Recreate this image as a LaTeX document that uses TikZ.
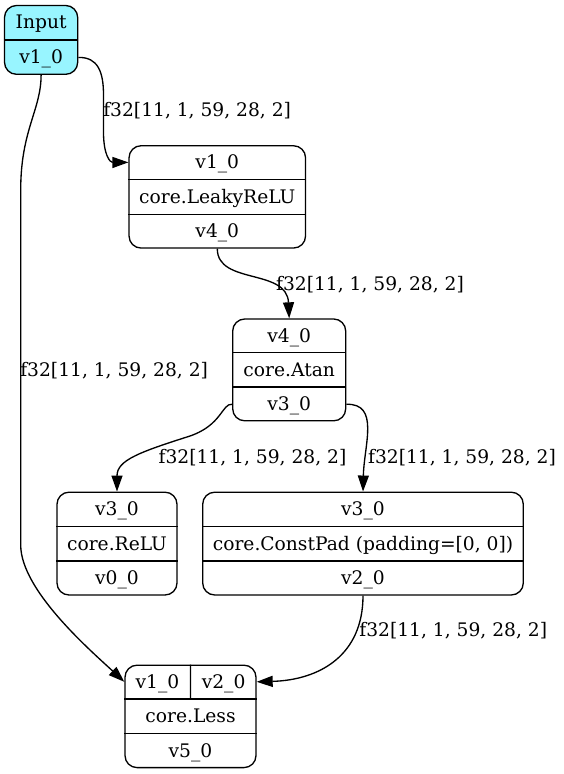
\documentclass[tikz,border=0pt]{standalone}
\usepackage{fontspec}
\setmainfont{DejaVu Serif}
\usetikzlibrary{arrows.meta,calc}
\definecolor{inpcyan}{RGB}{152,245,255}
\begin{document}
\begin{tikzpicture}[x=1pt,y=-1pt,line width=1.33pt,
  box/.style={draw,rounded corners=12pt,inner sep=0pt,line width=1.33pt},
  txt/.style={inner sep=0pt,text height=17pt,text depth=4pt,font=\fontsize{18.67}{22}\selectfont},
  edge/.style={-{Triangle[length=16pt,width=11pt]},line width=1.33pt}]
\useasboundingbox (0,0) rectangle (563,774);

% boxes
\node[box,fill=inpcyan,minimum width=73.2pt,minimum height=68.8pt] (inp) at (41.1,39.9) {};
\node[box,minimum width=176.5pt,minimum height=102.3pt] (leaky) at (217.3,196.9) {};
\node[box,minimum width=113pt,minimum height=101.8pt] (atan) at (289.2,369.9) {};
\node[box,minimum width=120pt,minimum height=102.8pt] (relu) at (117,543.6) {};
\node[box,minimum width=320.6pt,minimum height=102.8pt] (pad) at (363,543.6) {};
\node[box,minimum width=131pt,minimum height=102.4pt] (less) at (190.5,716.4) {};

% dividers
\draw ($(inp.north west)!1/2!(inp.south west)$) -- ($(inp.north east)!1/2!(inp.south east)$);
\foreach \b in {leaky,atan,relu,pad,less}{
  \draw ($(\b.north west)!1/3!(\b.south west)$) -- ($(\b.north east)!1/3!(\b.south east)$);
  \draw ($(\b.north west)!2/3!(\b.south west)$) -- ($(\b.north east)!2/3!(\b.south east)$);
}
\coordinate (less-d1) at ($(less.north)!1/3!(less.south)$);
\draw (less.north) -- (less-d1);

% texts
\node[txt] (inp-t1) at ($(inp.north)!1/4!(inp.south)$) {Input};
\node[txt] (inp-t2) at ($(inp.north)!3/4!(inp.south)$) {v1\_0};

\node[txt] (leaky-t1) at ($(leaky.north)!1/6!(leaky.south)$) {v1\_0};
\node[txt] (leaky-t2) at ($(leaky.north)!1/2!(leaky.south)$) {core.LeakyReLU};
\node[txt] (leaky-t3) at ($(leaky.north)!5/6!(leaky.south)$) {v4\_0};

\node[txt] (atan-t1) at ($(atan.north)!1/6!(atan.south)$) {v4\_0};
\node[txt] (atan-t2) at ($(atan.north)!1/2!(atan.south)$) {core.Atan};
\node[txt] (atan-t3) at ($(atan.north)!5/6!(atan.south)$) {v3\_0};

\node[txt] (relu-t1) at ($(relu.north)!1/6!(relu.south)$) {v3\_0};
\node[txt] (relu-t2) at ($(relu.north)!1/2!(relu.south)$) {core.ReLU};
\node[txt] (relu-t3) at ($(relu.north)!5/6!(relu.south)$) {v0\_0};

\node[txt] (pad-t1) at ($(pad.north)!1/6!(pad.south)$) {v3\_0};
\node[txt] (pad-t2) at ($(pad.north)!1/2!(pad.south)$) {core.ConstPad (padding=[0, 0])};
\node[txt] (pad-t3) at ($(pad.north)!5/6!(pad.south)$) {v2\_0};

\coordinate (less-r1) at ($(less.north)!1/6!(less.south)$);
\coordinate (less-c1) at ($(less.north west)!1/4!(less.north east)$);
\coordinate (less-c2) at ($(less.north west)!3/4!(less.north east)$);
\node[txt] (less-t1a) at (less-c1 |- less-r1) {v1\_0};
\node[txt] (less-t1b) at (less-c2 |- less-r1) {v2\_0};
\node[txt] (less-t2) at ($(less.north)!1/2!(less.south)$) {core.Less};
\node[txt] (less-t3) at ($(less.north)!5/6!(less.south)$) {v5\_0};

% edges
\draw[edge] (inp.east |- inp-t2) .. controls (98,57) and (103.5,72) .. (103.5,95)
  -- (103.5,132) .. controls (103.5,155) and (110,162.5) .. (leaky.west |- leaky-t1);
\draw[edge] (inp.south) .. controls (41.1,110) and (20.7,130) .. (20.7,190)
  -- (20.7,545) .. controls (20.7,590) and (90,650) .. (less.west |- less-t1a);
\draw[edge] (leaky.south) .. controls (217.3,285) and (287,268) .. (atan.north);
\draw[edge] (atan.west |- atan-t3) .. controls (222,403.3) and (222,425) .. (190,436)
  .. controls (140,452) and (117,460) .. (relu.north);
\draw[edge] (atan.east |- atan-t3) .. controls (380,403.3) and (364,445) .. (pad.north);
\draw[edge] (pad.south) .. controls (363,655) and (320,680) .. (less.east |- less-t1b);

% edge labels
\node[txt] (l1) at (197.2,110.2) {f32[11, 1, 59, 28, 2]};
\node[txt] (l2) at (370,283.5) {f32[11, 1, 59, 28, 2]};
\node[txt] (l3) at (114.2,370.2) {f32[11, 1, 59, 28, 2]};
\node[txt] (l4) at (252.5,456.8) {f32[11, 1, 59, 28, 2]};
\node[txt] (l5) at (462,456.8) {f32[11, 1, 59, 28, 2]};
\node[txt] (l6) at (453.3,630.2) {f32[11, 1, 59, 28, 2]};
\end{tikzpicture}
\end{document}
